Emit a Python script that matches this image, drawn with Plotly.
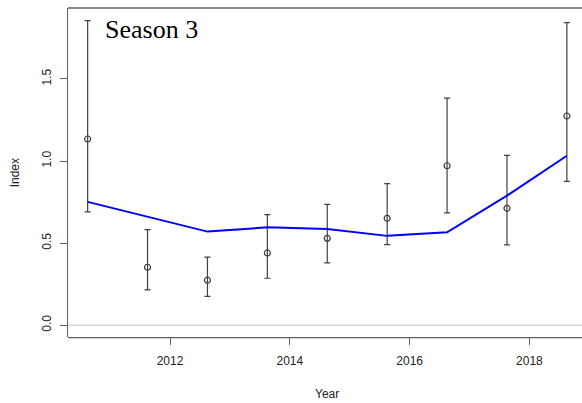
import plotly.graph_objects as go

# Seasonal index estimates (season 3) with confidence limits and fitted trend
years = [2010.625, 2011.625, 2012.625, 2013.625, 2014.625,
         2015.625, 2016.625, 2017.625, 2018.625]
index_est = [1.134, 0.353, 0.274, 0.440, 0.529, 0.651, 0.971, 0.712, 1.274]
upper_ci = [1.855, 0.582, 0.414, 0.673, 0.736, 0.862, 1.383, 1.034, 1.843]
lower_ci = [0.690, 0.215, 0.176, 0.286, 0.380, 0.491, 0.684, 0.489, 0.876]
fitted = [0.751, 0.660, 0.570, 0.596, 0.586, 0.544, 0.566, 0.789, 1.032]

x_ticks = [2012, 2014, 2016, 2018]
y_ticks = [0.0, 0.5, 1.0, 1.5]
y_tick_text = ["0.0", "0.5", "1.0", "1.5"]

err_plus = [u - v for u, v in zip(upper_ci, index_est)]
err_minus = [v - l for v, l in zip(index_est, lower_ci)]

axis_col = "#606060"
text_col = "#222222"

fig = go.Figure()

fig.add_trace(go.Scatter(
    x=years, y=index_est, mode="markers",
    marker=dict(symbol="circle-open", size=6, color="#3a3a3a",
                line=dict(width=1.2, color="#3a3a3a")),
    error_y=dict(type="data", symmetric=False, array=err_plus,
                 arrayminus=err_minus, color="#404040",
                 thickness=1.2, width=3),
    showlegend=False,
))

fig.add_trace(go.Scatter(
    x=years, y=fitted, mode="lines",
    line=dict(color="#0000ff", width=2),
    showlegend=False,
))

# reference line at zero, running out to the page edge
fig.add_shape(type="line", xref="paper", yref="y", x0=0, x1=1.02, y0=0, y1=0,
              line=dict(color="#d8d8d8", width=1.5), layer="below")

# top and bottom borders of the plotting box (open on the right)
for yb in (1.0, -0.002):
    fig.add_shape(type="line", xref="paper", yref="paper", x0=0, x1=1.02,
                  y0=yb, y1=yb, line=dict(color=axis_col, width=1.3))

fig.update_layout(
    width=582, height=403,
    margin=dict(l=68, r=8, t=8, b=65.5),
    paper_bgcolor="white", plot_bgcolor="white",
    font=dict(family="Liberation Sans, Arial, sans-serif", size=12, color=text_col),
    xaxis=dict(
        range=[2010.297, 2018.744], tickvals=x_ticks,
        showgrid=False, zeroline=False,
        showline=False,
        ticks="outside", ticklen=7, tickcolor=axis_col, tickwidth=1.3,
        ticklabelstandoff=6,
        tickfont=dict(size=12, color=text_col),
    ),
    yaxis=dict(
        range=[-0.072, 1.932], tickvals=y_ticks, ticktext=y_tick_text,
        showgrid=False, zeroline=False,
        showline=True, linecolor=axis_col, linewidth=1.3, mirror=False,
        ticks="outside", ticklen=7, tickcolor=axis_col, tickwidth=1.3,
        ticklabelstandoff=4,
        tickangle=-90, tickfont=dict(size=12, color=text_col),
    ),
    annotations=[
        dict(text="Season 3", xref="paper", yref="paper", x=0.069, y=0.935,
             xanchor="left", yanchor="middle", showarrow=False,
             font=dict(family="Liberation Serif, Times New Roman, serif",
                       size=26, color="black")),
        dict(text="Year", xref="paper", yref="paper", x=0.512, y=-0.174,
             xanchor="center", yanchor="middle", showarrow=False,
             font=dict(size=12, color=text_col)),
        dict(text="Index", xref="paper", yref="paper", x=-0.105, y=0.5,
             xanchor="center", yanchor="middle", showarrow=False,
             textangle=-90, font=dict(size=12, color=text_col)),
    ],
)

fig.write_html("out.html")
